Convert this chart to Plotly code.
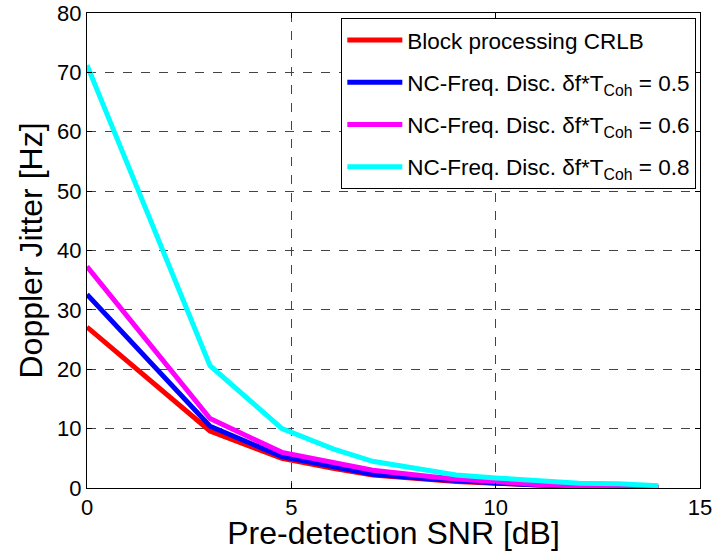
import plotly.graph_objects as go

snr_db = [0, 3.01, 4.77, 6.02, 6.99, 8.45, 9.03, 10.0, 11.0, 12.04, 13.01, 13.98]
crlb = [27.1, 9.6, 5.0, 3.3, 2.2, 1.4, 1.1, 0.8, 0.5, 0.3, 0.2, 0.1]
nc_05 = [32.6, 10.4, 5.3, 3.5, 2.3, 1.5, 1.2, 0.85, 0.5, 0.3, 0.2, 0.1]
nc_06 = [37.3, 11.7, 6.0, 4.2, 3.0, 1.9, 1.5, 1.1, 0.6, 0.35, 0.2, 0.15]
nc_08 = [71.2, 20.6, 10.0, 6.6, 4.5, 2.75, 2.2, 1.7, 1.3, 0.8, 0.7, 0.4]

names = [
    "Block processing CRLB",
    "NC-Freq. Disc. δf*T<sub>Coh</sub> = 0.5",
    "NC-Freq. Disc. δf*T<sub>Coh</sub> = 0.6",
    "NC-Freq. Disc. δf*T<sub>Coh</sub> = 0.8",
]
colors = ["#ff0000", "#0000ff", "#ff00ff", "#00ffff"]
series = [crlb, nc_05, nc_06, nc_08]

fig = go.Figure()
for i, (n, c, s) in enumerate(zip(names, colors, series)):
    fig.add_trace(go.Scatter(x=snr_db, y=s, mode="lines", name=n, legendgroup=f"g{i}",
                             line=dict(color=c, width=5)))

axis_common = dict(
    showline=True, linecolor="black", linewidth=1, mirror="ticks",
    ticks="inside", ticklen=5, tickcolor="black",
    showgrid=True, gridcolor="#444444", griddash="dash", gridwidth=1,
    zeroline=False, tickfont=dict(size=22, color="black"), automargin=False,
)
fig.update_xaxes(range=[0, 15], tickvals=[0, 5, 10, 15],
                 title=dict(text="Pre-detection SNR [dB]", font=dict(size=32, color="black"), standoff=0),
                 **axis_common)
fig.update_yaxes(range=[0, 80], tickvals=list(range(0, 81, 10)),
                 title=dict(text="Doppler Jitter [Hz]", font=dict(size=32, color="black"), standoff=4),
                 **axis_common)

fig.update_layout(
    width=715, height=551,
    margin=dict(l=87, r=15, t=13, b=63),
    paper_bgcolor="white", plot_bgcolor="white",
    font=dict(family="Liberation Sans", color="black"),
    showlegend=True,
    legend=dict(x=0.994, xanchor="right", y=0.99, yanchor="top",
                bgcolor="white", bordercolor="black", borderwidth=1,
                font=dict(size=22.5, color="black"), itemwidth=55,
                tracegroupgap=10),
)

fig.write_html("out.html")
